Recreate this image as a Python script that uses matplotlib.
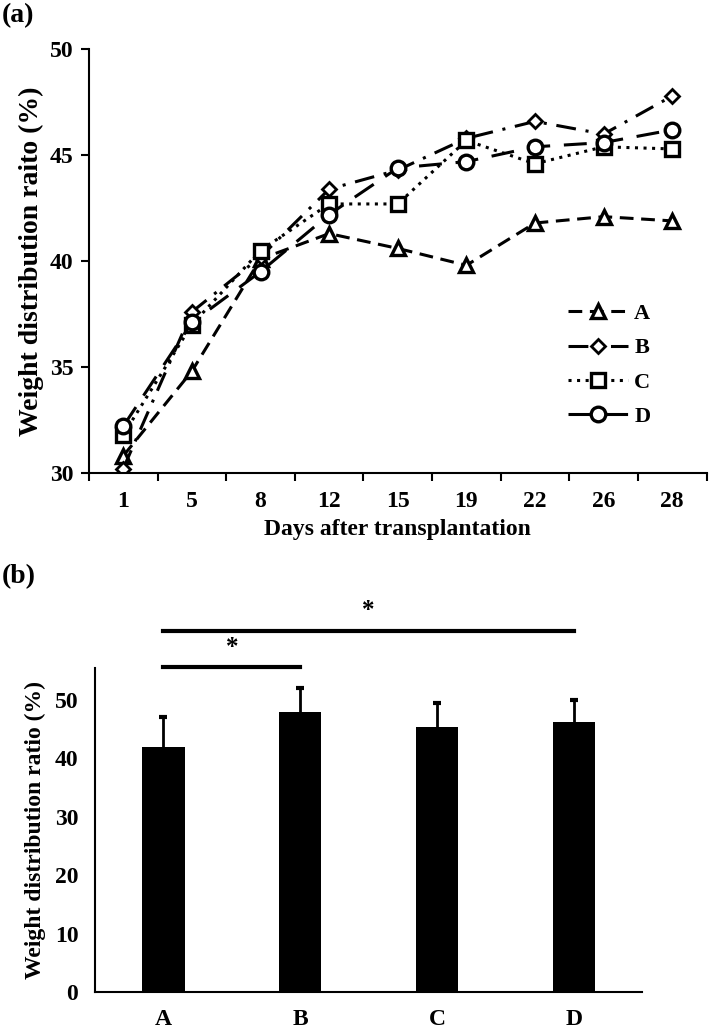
import matplotlib
matplotlib.use("Agg")
import matplotlib.pyplot as plt
import numpy as np

plt.rcParams['font.family'] = ['Liberation Serif', 'DejaVu Serif']
plt.rcParams['font.weight'] = 'bold'

# panel (a) data
days = ["1", "5", "8", "12", "15", "19", "22", "26", "28"]
a_vals = [30.8, 34.8, 40.1, 41.3, 40.6, 39.8, 41.8, 42.1, 41.9]
b_vals = [30.2, 37.6, 40.2, 43.4, 44.3, 45.8, 46.6, 46.0, 47.8]
c_vals = [31.8, 37.0, 40.5, 42.7, 42.7, 45.7, 44.6, 45.4, 45.3]
d_vals = [32.2, 37.1, 39.5, 42.2, 44.4, 44.7, 45.4, 45.6, 46.2]

# panel (b) data
groups = ["A", "B", "C", "D"]
means = [41.9, 47.8, 45.3, 46.2]
errs = [5.1, 4.2, 4.1, 3.8]

fig = plt.figure(figsize=(7.09, 10.30), dpi=100)

# ---- (a) line chart
ax1 = fig.add_axes([0.1255, 0.541, 0.871, 0.411])
x = np.arange(len(days))
lw = 2.2
ax1.plot(x, a_vals, color='k', lw=lw, dashes=(4.5, 2.5), marker='^', ms=10.5,
         mfc='white', mec='k', mew=2.4, label='A')
ax1.plot(x, b_vals, color='k', lw=lw, dashes=(6.5, 3.2, 1, 3.2), marker='D', ms=7,
         mfc='white', mec='k', mew=2.0, label='B')
ax1.plot(x, c_vals, color='k', lw=lw, dashes=(1, 1.8), marker='s', ms=10.5,
         mfc='white', mec='k', mew=2.4, label='C')
ax1.plot(x, d_vals, color='k', lw=lw, dashes=(7.5, 4.5), marker='o', ms=10.5,
         mfc='white', mec='k', mew=2.4, label='D')

ax1.set_xlim(-0.5, len(days) - 0.5)
ax1.set_ylim(30, 50)
ax1.set_yticks([30, 35, 40, 45, 50])
ax1.set_xticks(x)
ax1.set_xticklabels(days)
ax1.set_xticks(np.arange(-0.5, len(days), 1), minor=True)
ax1.tick_params(axis='x', which='major', length=0, pad=13, labelsize=17)
ax1.tick_params(axis='x', which='minor', length=6, width=1.5, direction='out')
ax1.tick_params(axis='y', length=6, width=1.5, direction='out', pad=5, labelsize=17)
for s in ['top', 'right']:
    ax1.spines[s].set_visible(False)
for s in ['left', 'bottom']:
    ax1.spines[s].set_linewidth(1.5)
ax1.set_xlabel("Days after transplantation", fontsize=17, fontweight='bold', labelpad=5)
ax1.set_ylabel("Weight distribution raito (%)", fontsize=20, fontweight='bold', labelpad=4)
leg = ax1.legend(loc='upper left', bbox_to_anchor=(0.775, 0.40), frameon=False,
                 fontsize=16, handlelength=2.7, handletextpad=0.3, labelspacing=0.62,
                 borderpad=0, borderaxespad=0)
fig.text(0.003, 0.985, "(a)", fontsize=20, fontweight='bold', va='center', ha='left')

# ---- (b) bar chart
ax2 = fig.add_axes([0.134, 0.0369, 0.772, 0.3146])
xb = np.arange(len(groups))
ax2.bar(xb, means, width=0.31, color='k')
eb = ax2.errorbar(xb, means, yerr=[np.zeros(len(errs)), errs], fmt='none',
                  ecolor='k', elinewidth=2, capsize=3, capthick=3)
eb[1][0].set_visible(False)  # hide the lower caps sitting on the bar tops
ax2.set_xlim(-0.5, len(groups) - 0.5)
ax2.set_ylim(0, 55.4)
ax2.set_yticks([0, 10, 20, 30, 40, 50])
ax2.set_xticks(xb)
ax2.set_xticklabels(groups)
ax2.tick_params(axis='x', length=0, pad=12, labelsize=17)
ax2.tick_params(axis='y', length=0, pad=12, labelsize=17)
for s in ['top', 'right']:
    ax2.spines[s].set_visible(False)
for s in ['left', 'bottom']:
    ax2.spines[s].set_linewidth(1.5)
ax2.set_ylabel("Weight distribution ratio (%)", fontsize=17, fontweight='bold', labelpad=6)

# significance brackets
ax2.plot([0, 1], [55.5, 55.5], color='k', lw=3, clip_on=False)
ax2.text(0.5, 57.0, "*", ha='center', va='bottom', fontsize=18, fontweight='bold')
ax2.plot([0, 3], [61.8, 61.8], color='k', lw=3, clip_on=False)
ax2.text(1.5, 63.3, "*", ha='center', va='bottom', fontsize=18, fontweight='bold')
fig.text(0.003, 0.44, "(b)", fontsize=20, fontweight='bold', va='center', ha='left')

fig.savefig("out.png", dpi=100)
